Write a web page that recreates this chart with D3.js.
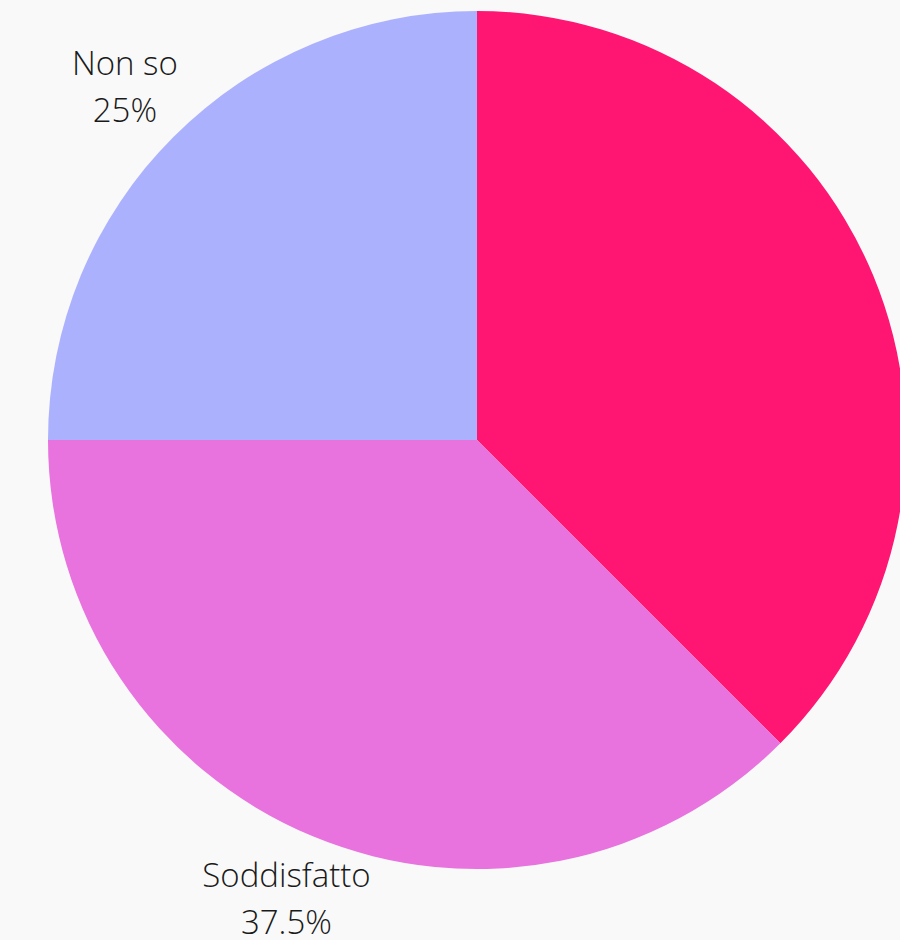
<!DOCTYPE html>
<html>
<head>
<meta charset="utf-8">
<script src="https://cdn.jsdelivr.net/npm/d3@7"></script>
<style>
  html, body { margin: 0; padding: 0; background: #f9f9f9; }
  svg { display: block; }
</style>
</head>
<body>
<div id="chart"></div>
<script>
// slice data (clockwise from 12 o'clock)
const labels = ["Insoddisfatto", "Soddisfatto", "Non so"];
const values = [37.5, 37.5, 25];
const colors = ["#ff1572", "#e872de", "#abb1fd"];

const width = 900;
const height = 940;
const cx = 477, cy = 440;
const radius = 429;
const labelRadius = 498;

const svg = d3.select("#chart")
    .append("svg")
    .attr("width", width)
    .attr("height", height)
    .style("font-family", "'Open Sans', sans-serif");

const data = labels.map((l, i) => ({ label: l, value: values[i], color: colors[i] }));

const pie = d3.pie()
    .value(d => d.value)
    .sort(null);

const arc = d3.arc()
    .innerRadius(0)
    .outerRadius(radius);

const labelArc = d3.arc()
    .innerRadius(labelRadius)
    .outerRadius(labelRadius);

const g = svg.append("g")
    .attr("transform", `translate(${cx},${cy})`);

const arcs = pie(data);

g.selectAll("path")
    .data(arcs)
    .join("path")
    .attr("d", arc)
    .attr("fill", d => d.data.color);

// labels that would fall outside the view are dropped (as in the original)
const visible = arcs.filter(d => {
    const [x] = labelArc.centroid(d);
    return cx + x < width - 60;
});

const lbl = g.selectAll("text")
    .data(visible)
    .join("text")
    .attr("transform", d => `translate(${labelArc.centroid(d)})`)
    .attr("text-anchor", "middle")
    .attr("fill", "#1a1a1a")
    .style("font-size", "33px")
    .style("font-weight", 300);

lbl.append("tspan")
    .attr("x", 0)
    .attr("y", -13)
    .text(d => d.data.label);

lbl.append("tspan")
    .attr("x", 0)
    .attr("y", 34)
    .text(d => d.data.value + "%");
</script>
</body>
</html>
